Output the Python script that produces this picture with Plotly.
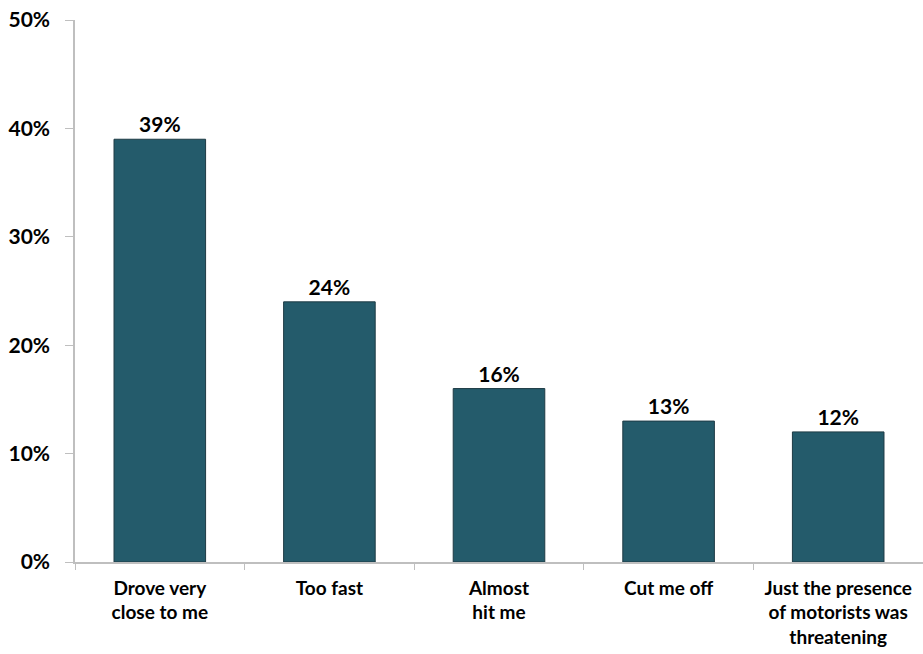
import plotly.graph_objects as go

categories = ["Drove very<br>close to me", "Too fast", "Almost<br>hit me", "Cut me off",
              "Just the presence<br>of motorists was<br>threatening"]
values = [39, 24, 16, 13, 12]
value_labels = ["39%", "24%", "16%", "13%", "12%"]
y_ticks = [0, 10, 20, 30, 40, 50]
y_tick_labels = ["0%", "10%", "20%", "30%", "40%", "50%"]

FONT = "Lato, Calibri, 'Open Sans', sans-serif"

fig = go.Figure(go.Bar(
    x=categories, y=values,
    marker=dict(color="#245B6B", line=dict(color="#1E3B45", width=1)),
    width=0.54,
    text=value_labels, textposition="outside",
    textfont=dict(family=FONT, size=21, color="#000000", weight="bold"),
    cliponaxis=False,
))

fig.update_layout(
    width=923, height=654,
    margin=dict(l=75, r=0, t=20, b=92),
    plot_bgcolor="white", paper_bgcolor="white",
    showlegend=False,
    font=dict(family=FONT, color="#000000"),
    bargap=0.46,
)
fig.update_yaxes(
    range=[0, 50], tickvals=y_ticks, ticktext=y_tick_labels,
    showgrid=False, zeroline=False, automargin=False,
    showline=True, linecolor="#BFBFBF", linewidth=1.5,
    ticks="outside", ticklen=8, tickcolor="#BFBFBF", tickwidth=1,
    tickfont=dict(family=FONT, size=21, color="#000000", weight="bold"),
    ticklabelstandoff=11, ticklabeloverflow="allow",
)
fig.update_xaxes(
    showgrid=False, showline=True, linecolor="#BFBFBF", linewidth=1.5,
    automargin=False,
    ticks="outside", ticklen=6, tickcolor="#BFBFBF", tickwidth=1,
    tickson="boundaries",
    tickfont=dict(family=FONT, size=19, color="#000000", weight="bold"),
    ticklabelstandoff=8, ticklabeloverflow="allow",
)

fig.write_html(
    "out.html",
    config={"displayModeBar": False},
    post_script="document.body.style.margin='0';document.body.style.overflow='hidden';",
)
